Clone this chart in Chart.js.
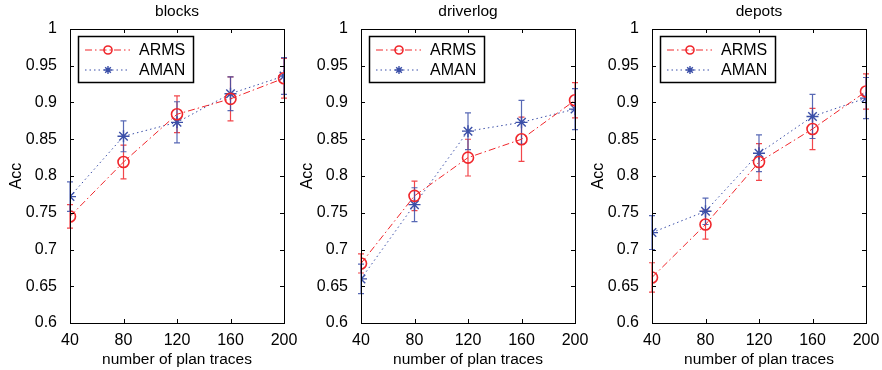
<!DOCTYPE html>
<html>
<head>
<title>Acc vs number of plan traces</title>
<script src="https://cdn.jsdelivr.net/npm/chart.js"></script>
<style>
  body { margin: 0; background: #fff; width: 882px; height: 370px; overflow: hidden; position: relative; }
  .panel { position: absolute; top: 0; width: 300px; height: 370px; }
</style>
</head>
<body>
<div class="panel" style="left:0px"><canvas id="c0" width="300" height="370"></canvas></div>
<div class="panel" style="left:291px"><canvas id="c1" width="300" height="370"></canvas></div>
<div class="panel" style="left:582px"><canvas id="c2" width="300" height="370"></canvas></div>

<script>
// data
const xValues = [40, 80, 120, 160, 200];
const panelTitles = ['blocks', 'driverlog', 'depots'];
const seriesNames = ['ARMS', 'AMAN'];

const blocksArms     = [0.745, 0.819, 0.884, 0.905, 0.933];
const blocksArmsErr  = [0.016, 0.023, 0.025, 0.030, 0.027];
const blocksAman     = [0.772, 0.854, 0.873, 0.912, 0.936];
const blocksAmanErr  = [0.020, 0.021, 0.028, 0.023, 0.025];

const driverArms     = [0.681, 0.773, 0.825, 0.850, 0.903];
const driverArmsErr  = [0.013, 0.020, 0.025, 0.030, 0.024];
const driverAman     = [0.660, 0.761, 0.861, 0.873, 0.891];
const driverAmanErr  = [0.020, 0.023, 0.025, 0.030, 0.028];

const depotsArms     = [0.662, 0.734, 0.819, 0.864, 0.915];
const depotsArmsErr  = [0.020, 0.020, 0.025, 0.028, 0.024];
const depotsAman     = [0.723, 0.752, 0.831, 0.881, 0.906];
const depotsAmanErr  = [0.023, 0.018, 0.025, 0.030, 0.028];

const panels = [
  { arms: blocksArms, armsErr: blocksArmsErr, aman: blocksAman, amanErr: blocksAmanErr },
  { arms: driverArms, armsErr: driverArmsErr, aman: driverAman, amanErr: driverAmanErr },
  { arms: depotsArms, armsErr: depotsArmsErr, aman: depotsAman, amanErr: depotsAmanErr }
];

const RED = '#f0262b';
const BLUE = '#3b4fa8';
const FONT = "'Liberation Sans', Arial, Helvetica, sans-serif";
const armsDash = [7, 3, 1.5, 3];
const amanDash = [1.5, 3];

// error bars, box, inward ticks, legend and title (matlab look)
const matlabPlugin = {
  id: 'matlab',
  beforeDatasetsDraw(chart) {
    const ctx = chart.ctx;
    const xs = chart.scales.x, ys = chart.scales.y;
    chart.data.datasets.forEach(ds => {
      ctx.save();
      ctx.strokeStyle = ds.borderColor;
      ctx.globalAlpha = 0.85;
      ctx.lineWidth = 1.2;
      ds.data.forEach((p, i) => {
        const e = ds.errors[i];
        const px = xs.getPixelForValue(p.x);
        const top = ys.getPixelForValue(p.y + e);
        const bot = ys.getPixelForValue(p.y - e);
        ctx.beginPath();
        ctx.moveTo(px, top); ctx.lineTo(px, bot);
        ctx.moveTo(px - 3, top); ctx.lineTo(px + 3, top);
        ctx.moveTo(px - 3, bot); ctx.lineTo(px + 3, bot);
        ctx.stroke();
      });
      ctx.restore();
    });
  },
  afterDraw(chart) {
    const ctx = chart.ctx;
    const a = chart.chartArea;
    const xs = chart.scales.x, ys = chart.scales.y;
    ctx.save();
    ctx.strokeStyle = '#000';
    ctx.lineWidth = 1;
    ctx.strokeRect(Math.round(a.left) + 0.5, Math.round(a.top) + 0.5,
                   Math.round(a.right - a.left), Math.round(a.bottom - a.top));
    ctx.beginPath();
    xs.ticks.forEach(t => {
      const px = Math.round(xs.getPixelForValue(t.value)) + 0.5;
      ctx.moveTo(px, a.bottom); ctx.lineTo(px, a.bottom - 4);
      ctx.moveTo(px, a.top); ctx.lineTo(px, a.top + 4);
    });
    ys.ticks.forEach(t => {
      const py = Math.round(ys.getPixelForValue(t.value)) + 0.5;
      ctx.moveTo(a.left, py); ctx.lineTo(a.left + 4, py);
      ctx.moveTo(a.right, py); ctx.lineTo(a.right - 4, py);
    });
    ctx.stroke();

    // title
    ctx.fillStyle = '#000';
    ctx.font = '15.5px ' + FONT;
    ctx.textAlign = 'center';
    ctx.textBaseline = 'middle';
    ctx.fillText(chart.options.plugins.matlab.title, (a.left + a.right) / 2, 12);

    // legend box
    const lx = a.left + 8, ly = a.top + 7, lw = 115, lh = 46;
    ctx.fillStyle = '#fff';
    ctx.fillRect(lx, ly, lw, lh);
    ctx.lineWidth = 1.5;
    ctx.strokeRect(Math.round(lx) + 0.5, Math.round(ly) + 0.5, lw, lh);
    chart.data.datasets.forEach((ds, i) => {
      const cy = ly + 14 + i * 20;
      ctx.save();
      ctx.strokeStyle = ds.borderColor;
      ctx.lineWidth = 1;
      ctx.setLineDash(ds.borderDash);
      ctx.beginPath();
      ctx.moveTo(lx + 7, cy); ctx.lineTo(lx + 52, cy);
      ctx.stroke();
      ctx.setLineDash([]);
      ctx.fillStyle = 'rgba(0,0,0,0)';
      ctx.lineWidth = ds.pointBorderWidth;
      Chart.helpers.drawPoint(ctx, {
        pointStyle: ds.pointStyle, radius: 4, rotation: 0, borderWidth: ds.pointBorderWidth
      }, lx + 30, cy);
      ctx.restore();
      ctx.fillStyle = '#000';
      ctx.font = '16px ' + FONT;
      ctx.textAlign = 'left';
      ctx.fillText(ds.label, lx + 61, cy + 1);
    });
    ctx.restore();
  }
};

panels.forEach((p, k) => {
  new Chart(document.getElementById('c' + k), {
    type: 'line',
    data: {
      datasets: [
        {
          label: seriesNames[0],
          data: xValues.map((x, i) => ({ x: x, y: p.arms[i] })),
          errors: p.armsErr,
          borderColor: RED,
          borderWidth: 1,
          borderDash: armsDash,
          pointStyle: 'circle',
          pointRadius: 5.5,
          pointBorderWidth: 1.6,
          pointBackgroundColor: 'rgba(0,0,0,0)',
          pointBorderColor: RED,
          fill: false,
          tension: 0
        },
        {
          label: seriesNames[1],
          data: xValues.map((x, i) => ({ x: x, y: p.aman[i] })),
          errors: p.amanErr,
          borderColor: BLUE,
          borderWidth: 1,
          borderDash: amanDash,
          pointStyle: 'star',
          pointRadius: 6,
          pointBorderWidth: 1.4,
          pointBackgroundColor: BLUE,
          pointBorderColor: BLUE,
          fill: false,
          tension: 0
        }
      ]
    },
    options: {
      responsive: false,
      animation: false,
      layout: { padding: { left: 0, right: 16, top: 29, bottom: 0 } },
      plugins: {
        legend: { display: false },
        tooltip: { enabled: false },
        matlab: { title: panelTitles[k] }
      },
      scales: {
        x: {
          type: 'linear',
          min: 40, max: 200,
          grid: { display: false },
          border: { display: false },
          ticks: { stepSize: 40, padding: 0, color: '#000', font: { family: FONT, size: 16 } },
          title: { display: true, text: 'number of plan traces', color: '#000',
                   font: { family: FONT, size: 15.5 }, padding: { top: 0, bottom: 1 } },
          afterFit(s) { s.height = 47; }
        },
        y: {
          min: 0.6, max: 1,
          grid: { display: false },
          border: { display: false },
          ticks: { stepSize: 0.05, padding: 5, color: '#000', font: { family: FONT, size: 16 },
                   callback: v => String(+v.toFixed(2)) },
          title: { display: true, text: 'Acc', color: '#000',
                   font: { family: FONT, size: 16 }, padding: { top: 7, bottom: 0 } },
          afterFit(s) { s.width = 70; }
        }
      }
    },
    plugins: [matlabPlugin]
  });
});
</script>
</body>
</html>
